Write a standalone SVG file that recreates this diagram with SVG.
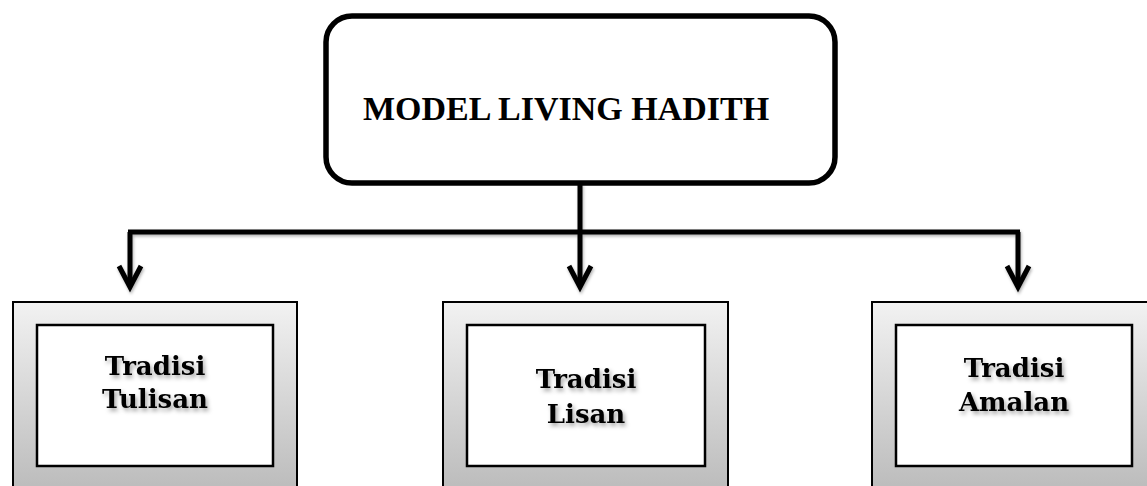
<svg xmlns="http://www.w3.org/2000/svg" width="1147" height="486" viewBox="0 0 1147 486">
<defs>
<style>
.title{font-family:"Liberation Serif","Times New Roman",serif;font-weight:bold;font-size:34px;fill:#000;text-anchor:middle}
.lbl{font-family:"DejaVu Serif","Liberation Serif",serif;font-weight:bold;font-size:26px;fill:#000;text-anchor:middle}
.frame{fill:url(#g);stroke:#000;stroke-width:2}
.inner{fill:#fff;stroke:#000;stroke-width:2.5}
.conn{fill:none;stroke:#000;stroke-width:5}
</style>
<linearGradient id="g" x1="0" y1="0" x2="0" y2="1">
<stop offset="0" stop-color="#f2f2f2"/>
<stop offset="1" stop-color="#b8b8b8"/>
</linearGradient>
<filter id="ts" x="-20%" y="-30%" width="150%" height="170%">
<feGaussianBlur in="SourceAlpha" stdDeviation="2"/>
<feOffset dx="1.5" dy="2.5" result="b"/>
<feFlood flood-color="#000" flood-opacity="0.35"/>
<feComposite in2="b" operator="in"/>
<feMerge><feMergeNode/><feMergeNode in="SourceGraphic"/></feMerge>
</filter>
<filter id="ls" x="-10%" y="-10%" width="130%" height="130%">
<feGaussianBlur in="SourceAlpha" stdDeviation="1.5"/>
<feOffset dx="1" dy="2" result="b"/>
<feFlood flood-color="#000" flood-opacity="0.3"/>
<feComposite in2="b" operator="in"/>
<feMerge><feMergeNode/><feMergeNode in="SourceGraphic"/></feMerge>
</filter>
<marker id="arr" markerUnits="userSpaceOnUse" markerWidth="40" markerHeight="40" refX="0" refY="0" orient="auto" overflow="visible">
<path d="M-21,-11 L0,0 L-21,11" fill="none" stroke="#000" stroke-width="5" stroke-linejoin="miter"/>
</marker>
</defs>
<rect width="1147" height="486" fill="#fff"/>
<g id="connectors" filter="url(#ls)">
<path class="conn" d="M580,183 V232"/>
<path class="conn" d="M128,232 H1020"/>
<path class="conn" d="M130,232 V287" marker-end="url(#arr)"/>
<path class="conn" d="M580,232 V287" marker-end="url(#arr)"/>
<path class="conn" d="M1018,232 V287" marker-end="url(#arr)"/>
</g>
<g id="model-living-hadith">
<rect x="326" y="16" width="509" height="167" rx="26" ry="26" fill="#fff" stroke="#000" stroke-width="5.5"/>
<text class="title" x="566" y="120">MODEL LIVING HADITH</text>
</g>
<g id="tradisi-tulisan">
<rect class="frame" x="13" y="302" width="284" height="200"/>
<rect class="inner" x="37" y="325" width="236" height="141"/>
<text class="lbl" x="155" y="375" filter="url(#ts)">Tradisi<tspan x="155" y="408">Tulisan</tspan></text>
</g>
<g id="tradisi-lisan">
<rect class="frame" x="443" y="302" width="285" height="200"/>
<rect class="inner" x="467" y="325" width="238" height="141"/>
<text class="lbl" x="586" y="388" filter="url(#ts)">Tradisi<tspan x="586" y="423">Lisan</tspan></text>
</g>
<g id="tradisi-amalan">
<rect class="frame" x="872" y="302" width="284" height="200"/>
<rect class="inner" x="896" y="325" width="236" height="141"/>
<text class="lbl" x="1014" y="377" filter="url(#ts)">Tradisi<tspan x="1014" y="411">Amalan</tspan></text>
</g>
</svg>
